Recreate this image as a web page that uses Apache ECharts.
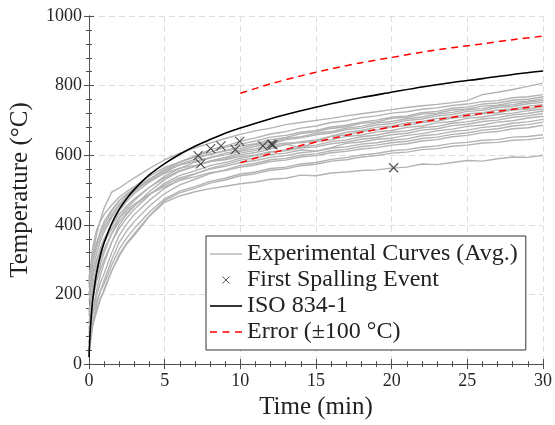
<!DOCTYPE html>
<html>
<head>
<meta charset="utf-8">
<script src="https://cdn.jsdelivr.net/npm/echarts@6/dist/echarts.min.js"></script>
<style>
html,body{margin:0;padding:0;background:#fff;}
#chart{width:555px;height:425px;}
</style>
</head>
<body>
<div id="chart"></div>
<script>
// ---- data ----
const times = [0,0.25,0.5,0.75,1,1.5,2,2.5,3,4,5,6,7,8,9,10,11,12,13,14,15,16,17,18,19,20,21,22,23,24,25,26,27,28,29,30];

const curveA  = [230,315,372,415,448,494,506,521,535,562,587,606,621,635,648,660,670,678,688,694,700,706,713,719,725,731,737,742,746,751,757,774,781,789,798,807];
const curveM1 = [250,310,348,378,400,438,470,489,505,532,555,580,597,616,626,640,650,661,668,678,684,694,699,708,713,721,725,732,736,743,747,754,757,765,768,774];
const curveM2 = [200,272,317,353,380,421,455,477,495,531,560,581,598,609,623,632,641,652,657,666,671,681,686,695,701,709,713,722,726,735,739,747,750,758,761,768];
const curveM3 = [150,230,280,320,350,400,440,468,490,523,550,574,588,604,613,626,633,645,651,662,667,677,682,692,696,706,709,718,721,730,733,741,744,752,755,762];
const curveM4 = [240,335,385,410,430,457,480,496,510,540,565,580,595,602,613,619,631,638,648,653,663,668,678,683,693,697,705,710,718,723,731,734,742,745,753,757];
const curveM5 = [100,188,243,287,320,375,420,448,470,508,540,562,580,592,606,614,626,633,644,650,659,664,674,678,687,691,700,704,713,717,726,729,737,740,748,752];
const curveM6 = [230,294,334,366,390,428,460,482,500,530,555,572,583,594,601,611,619,629,635,636,641,655,666,671,680,684,693,697,706,710,719,722,730,733,741,745];
const curveM7 = [60,152,210,256,290,350,400,430,455,496,530,554,568,584,594,606,614,624,630,639,644,654,659,668,673,681,685,694,698,707,711,719,722,730,733,740];
const curveM8 = [180,252,297,333,360,398,430,455,475,508,535,556,568,582,590,601,608,618,632,622,639,644,654,658,667,671,680,684,693,697,706,710,717,721,728,733];
const curveM9 = [120,192,237,273,300,350,390,420,445,486,520,542,555,570,579,591,599,609,615,624,629,639,644,653,658,666,670,679,683,692,696,704,708,716,720,727];
const curveM10 = [220,296,344,382,410,443,470,486,500,526,548,563,571,582,587,596,601,610,613,621,624,633,638,646,651,659,663,672,676,685,689,697,701,709,713,720];
const curveM11 = [80,152,197,233,260,320,370,403,430,471,505,530,546,562,573,586,592,602,606,615,612,622,634,638,646,649,657,662,670,675,683,687,695,699,707,712];
const curveM12 = [140,216,264,302,330,374,410,435,455,488,515,535,547,560,568,579,585,594,599,607,611,620,624,632,636,643,647,656,660,668,672,680,684,692,696,703];
const curveM13 = [40,120,170,210,240,300,350,383,410,454,490,515,531,547,558,571,577,587,591,600,604,613,617,625,629,636,640,648,652,660,664,672,676,684,688,695];
const curveM14 = [200,260,298,328,350,388,420,442,460,488,510,528,538,550,556,566,572,582,586,595,599,607,611,618,622,629,633,641,645,653,657,665,668,676,679,686];
const curveL1 = [90,146,181,209,230,285,330,363,390,437,475,497,510,525,534,546,552,562,566,575,579,588,593,601,605,613,616,623,627,634,637,643,645,652,654,659];
const curveL2 = [60,120,158,188,210,268,315,348,375,427,470,492,505,520,529,541,547,557,561,570,574,583,587,595,599,606,609,616,619,626,629,635,637,643,645,650];
const curveL3 = [30,110,150,185,215,268,310,345,370,425,465,483,495,504,511,518,523,531,534,543,541,549,552,556,558,563,566,575,573,579,585,583,590,595,594,600];

const isoTimes  = [0,0.05,0.1,0.15,0.25,0.5,0.75,1,1.5,2,2.5,3,4,5,6,7,8,9,10,12,14,16,18,20,22,24,26,28,30];
const isoValues = [20,70,108,138,185,261,312,349,404,445,476,502,544,576,603,626,645,663,678,705,728,748,766,781,796,809,820,832,842];

const errTimes = [10,12,14,16,18,20,22,24,26,28,30];
const errUpper = [778,805,828,848,866,881,896,909,920,932,942];
const errLower = [578,605,628,648,666,681,696,709,720,732,742];

const spallTimes = [7.21,7.38,8.04,8.72,9.67,9.96,11.49,12.04,12.15,20.13];
const spallTemps = [599,575,619,627,616,640,627,632,630,564];

const xTicks = [0,5,10,15,20,25,30];
const yTicks = [0,200,400,600,800,1000];

// ---- chart ----
const expCurves = [curveA,curveM1,curveM2,curveM3,curveM4,curveM5,curveM6,curveM7,curveM8,curveM9,curveM10,curveM11,curveM12,curveM13,curveM14,curveL1,curveL2,curveL3];
const FONT = "'Liberation Serif', 'Times New Roman', serif";
const EXP = 'Experimental Curves (Avg.)';
const SPALL = 'First Spalling Event';
const ISO = 'ISO 834-1';
const ERR = 'Error (\u00B1100 \u00B0C)';

const pair = (xs, ys) => xs.map((x, i) => [x, ys[i]]);

const series = [];
expCurves.forEach(c => {
  series.push({
    name: EXP, type: 'line', data: pair(times, c), symbol: 'none',
    lineStyle: {color: '#b3b3b3', width: 1.4}, itemStyle: {color: '#b3b3b3'},
    z: 2, silent: true, animation: false
  });
});
series.push({
  name: ISO, type: 'line', data: pair(isoTimes, isoValues), symbol: 'none', smooth: 0.3,
  lineStyle: {color: '#000', width: 1.6}, itemStyle: {color: '#000'}, z: 3, animation: false
});
series.push({
  name: ERR, type: 'line', data: pair(errTimes, errUpper), symbol: 'none', smooth: 0.3,
  lineStyle: {color: '#ff0000', width: 1.5, type: [7, 5]}, itemStyle: {color: '#ff0000'}, z: 4, animation: false
});
series.push({
  name: ERR, type: 'line', data: pair(errTimes, errLower), symbol: 'none', smooth: 0.3,
  lineStyle: {color: '#ff0000', width: 1.5, type: [7, 5]}, itemStyle: {color: '#ff0000'}, z: 4, animation: false
});
const crossPath = 'path://M0,0L10,10M10,0L0,10';
series.push({
  name: SPALL, type: 'scatter', data: pair(spallTimes, spallTemps),
  symbol: crossPath, symbolSize: 9,
  itemStyle: {color: 'none', borderColor: '#2a2a2a', borderWidth: 1.2}, z: 5, animation: false
});

const axisCommon = {
  type: 'value',
  axisLine: {show: true, lineStyle: {color: '#4d4d4d', width: 1}},
  axisTick: {show: true, inside: true, length: 5, lineStyle: {color: '#4d4d4d'}},
  minorTick: {show: true, splitNumber: 5, length: 3, lineStyle: {color: '#4d4d4d'}}
};

const option = {
  backgroundColor: '#fff',
  animation: false,
  grid: {left: 88, right: 12, top: 16, bottom: 60, containLabel: false},
  legend: {
    orient: 'vertical', left: 206, top: 236,
    backgroundColor: '#fff', borderColor: '#333', borderWidth: 1,
    padding: [5, 8, 5, 4], itemGap: 0, itemWidth: 32, itemHeight: 14,
    textStyle: {fontFamily: FONT, fontSize: 24, color: '#222', lineHeight: 26},
    data: [
      {name: EXP, icon: 'path://M0,0L32,0L32,1.4L0,1.4Z', itemStyle: {color: '#b3b3b3'}},
      {name: SPALL, icon: 'path://M0,0L10,10M10,0L0,10M-5,-5M15,15', itemStyle: {color: 'none', borderColor: '#2a2a2a', borderWidth: 1}},
      {name: ISO, icon: 'path://M0,0L32,0L32,1.6L0,1.6Z', itemStyle: {color: '#000'}},
      {name: ERR, icon: 'path://M0,0h7v1.5h-7zM12.5,0h7v1.5h-7zM25,0h7v1.5h-7z', itemStyle: {color: '#ff0000'}}
    ],
    selectedMode: false
  },
  xAxis: [
    Object.assign({}, axisCommon, {
      min: xTicks[0], max: xTicks[xTicks.length - 1], interval: 5, position: 'bottom',
      axisLabel: {fontFamily: FONT, fontSize: 18, color: '#262626', margin: 8, formatter: v => String(v)},
      splitLine: {show: true, lineStyle: {color: '#dddddd', width: 1, type: [6, 4]}},
      name: 'Time (min)', nameLocation: 'middle', nameGap: 30,
      nameTextStyle: {fontFamily: FONT, fontSize: 25, color: '#222'}
    }),
    Object.assign({}, axisCommon, {
      min: xTicks[0], max: xTicks[xTicks.length - 1], interval: 5, position: 'top',
      axisLabel: {show: false}, splitLine: {show: false}
    })
  ],
  yAxis: [
    Object.assign({}, axisCommon, {
      min: yTicks[0], max: yTicks[yTicks.length - 1], interval: 200, position: 'left',
      axisLabel: {fontFamily: FONT, fontSize: 18, color: '#262626', margin: 7, formatter: v => String(v)},
      splitLine: {show: true, lineStyle: {color: '#dddddd', width: 1, type: [6, 4]}},
      name: 'Temperature (\u00B0C)', nameLocation: 'middle', nameGap: 56,
      nameTextStyle: {fontFamily: FONT, fontSize: 25, color: '#222'}
    }),
    Object.assign({}, axisCommon, {
      min: yTicks[0], max: yTicks[yTicks.length - 1], interval: 200, position: 'right',
      axisLabel: {show: false}, splitLine: {show: false}
    })
  ],
  series: series
};

const chart = echarts.init(document.getElementById('chart'), null, {renderer: 'canvas'});
chart.setOption(option);
</script>
</body>
</html>
